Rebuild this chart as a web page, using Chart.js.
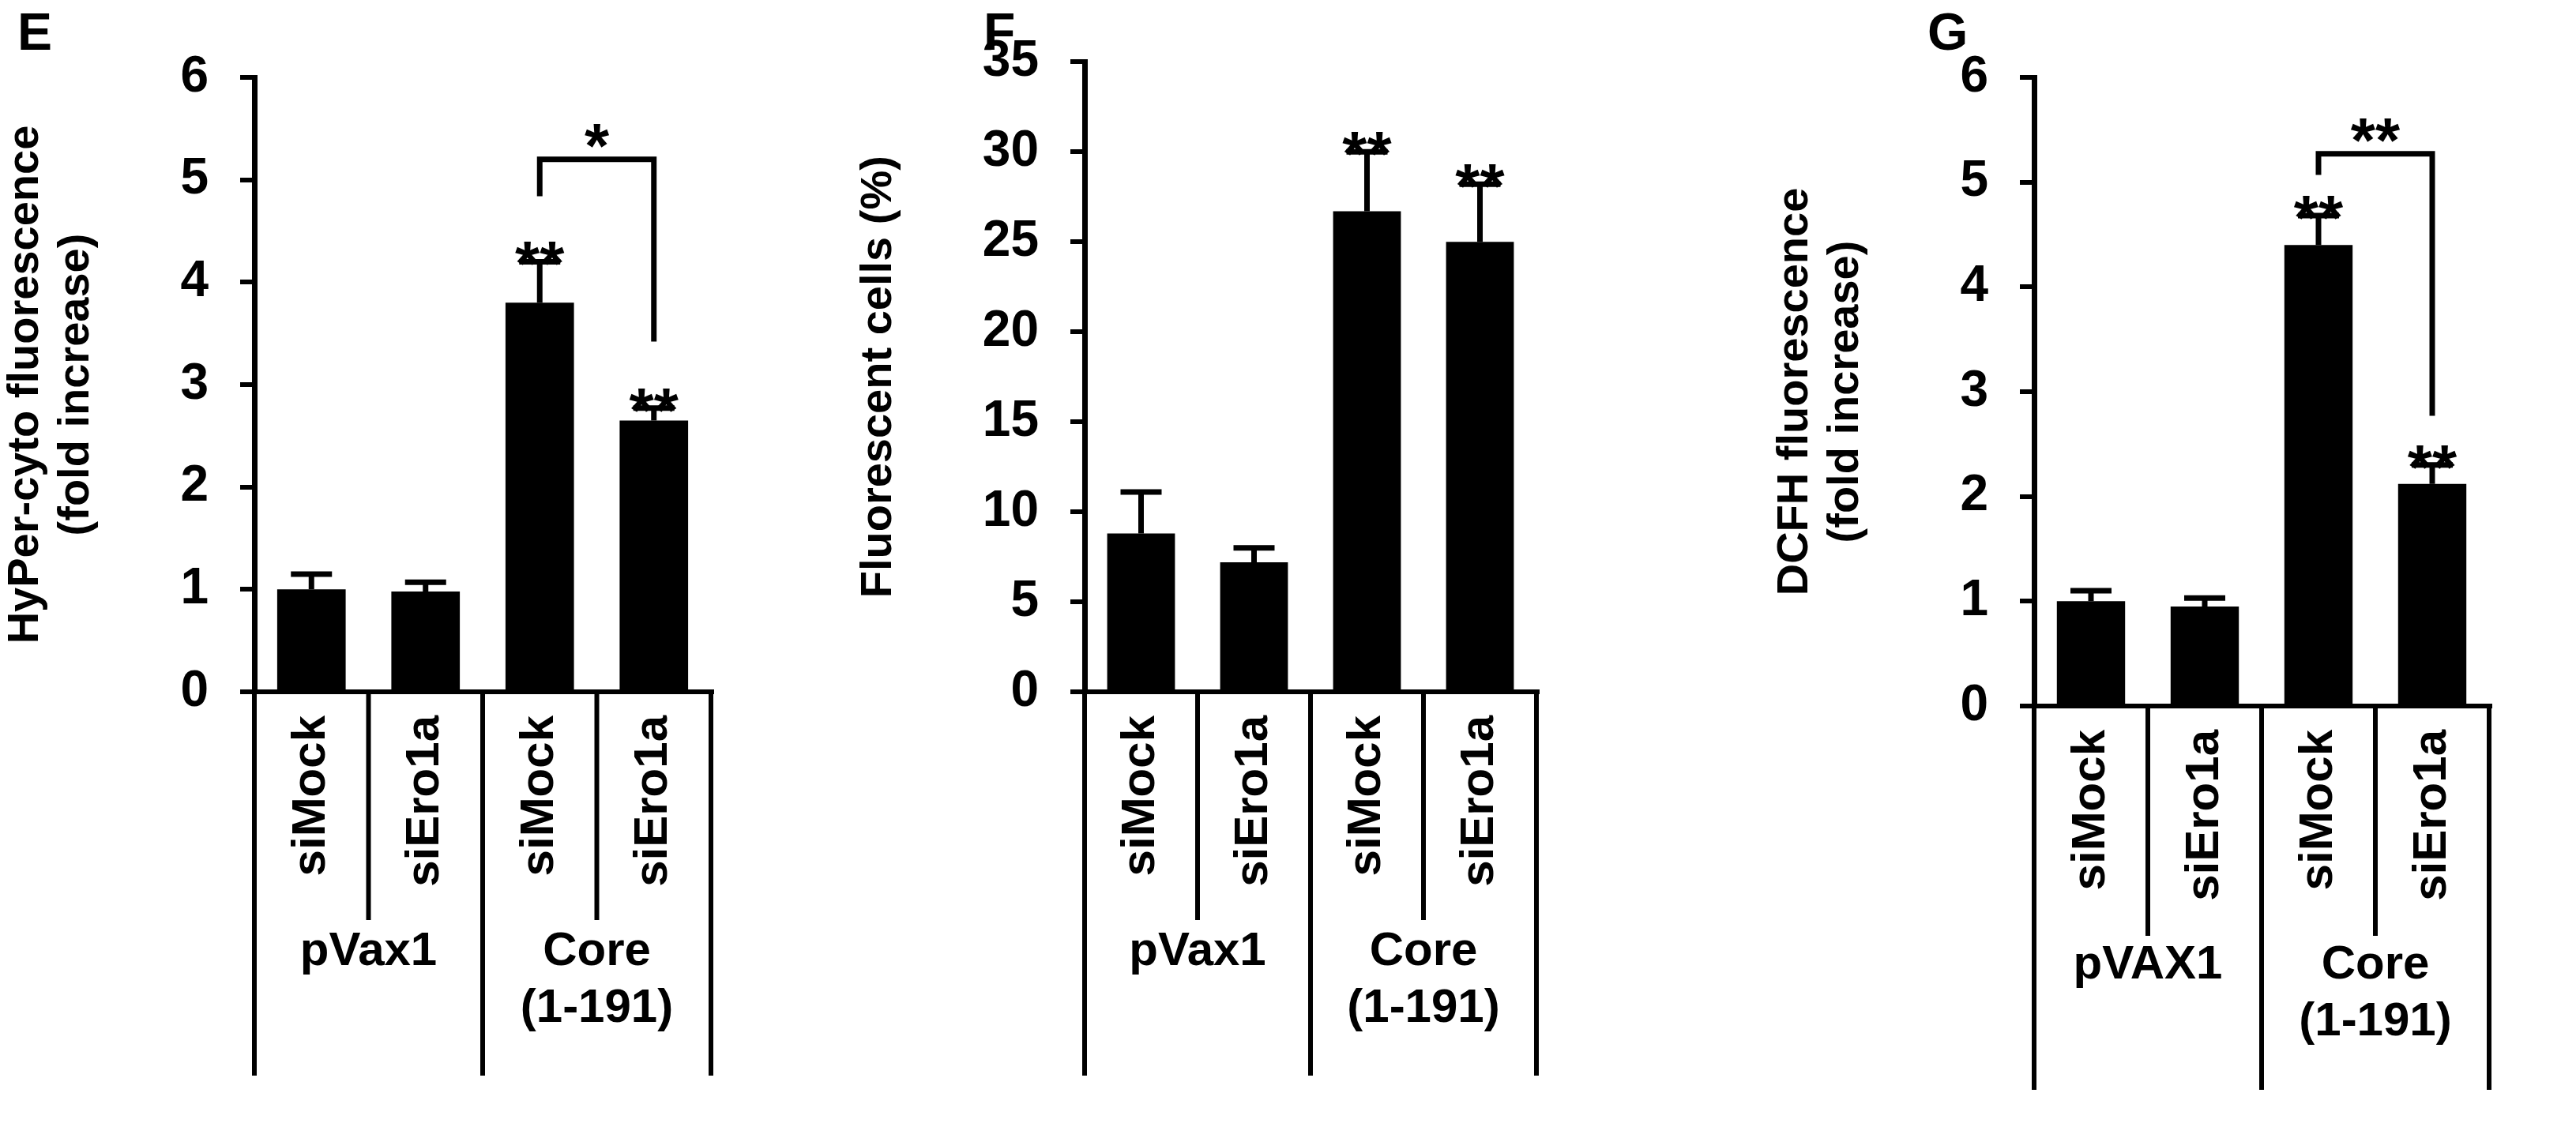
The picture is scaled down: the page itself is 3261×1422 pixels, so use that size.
<!DOCTYPE html>
<html>
<head>
<meta charset="utf-8">
<script src="https://cdn.jsdelivr.net/npm/chart.js@4.4.1/dist/chart.umd.min.js"></script>
<style>
  body { margin: 0; background: #fff; width: 3261px; height: 1422px; position: relative; overflow: hidden; }
  canvas { position: absolute; top: 0; }
  .lbl { position: absolute; font: bold 66px Arial, "Liberation Sans", sans-serif; }
</style>
</head>
<body>
<div class="lbl" style="left:22px;top:2px;">E</div>
<div class="lbl" style="left:1245px;top:2px;">F</div>
<div class="lbl" style="left:2440px;top:2px;">G</div>
<canvas id="chartE"></canvas>
<canvas id="chartF"></canvas>
<canvas id="chartG"></canvas>
<script>
// ==============================
// DATA
// ==============================
const categories = ['siMock', 'siEro1a', 'siMock', 'siEro1a'];
const groupsE = [['pVax1'], ['Core', '(1-191)']];
const groupsG = [['pVAX1'], ['Core', '(1-191)']];

const hyperValues = [1.0, 0.98, 3.8, 2.65];
const hyperErrors = [0.15, 0.09, 0.4, 0.12];
const hyperStars = ['', '', '**', '**'];

const cellValues = [8.8, 7.2, 26.7, 25.0];
const cellErrors = [2.3, 0.8, 3.3, 3.2];
const cellStars = ['', '', '**', '**'];

const dcfhValues = [1.0, 0.95, 4.4, 2.12];
const dcfhErrors = [0.1, 0.08, 0.28, 0.18];
const dcfhStars = ['', '', '**', '**'];

const FONT = 'Arial, "Liberation Sans", sans-serif';

// Annotations: errorbars, stars, bracket, category table
const annotate = {
    id: 'annotate',
    afterDatasetsDraw(chart, args, opts) {
        const ctx = chart.ctx;
        const y = chart.scales.y;
        const meta = chart.getDatasetMeta(0);
        const area = chart.chartArea;
        ctx.save();
        ctx.strokeStyle = '#000';
        ctx.fillStyle = '#000';
        ctx.lineWidth = 7;

        // error bars (upper only)
        meta.data.forEach((bar, i) => {
            const top = y.getPixelForValue(opts.values[i] + opts.errors[i]);
            ctx.beginPath();
            ctx.moveTo(bar.x, bar.y);
            ctx.lineTo(bar.x, top);
            ctx.moveTo(bar.x - 26, top);
            ctx.lineTo(bar.x + 26, top);
            ctx.stroke();
            if (opts.stars[i]) {
                ctx.font = 'bold 80px ' + FONT;
                ctx.textAlign = 'center';
                ctx.textBaseline = 'alphabetic';
                ctx.fillText(opts.stars[i], bar.x, top + 30);
            }
        });

        // comparison bracket
        if (opts.bracket) {
            const b = opts.bracket;
            const x1 = meta.data[2].x, x2 = meta.data[3].x;
            const yTop = y.getPixelForValue(b.top);
            ctx.beginPath();
            ctx.moveTo(x1, y.getPixelForValue(b.left));
            ctx.lineTo(x1, yTop);
            ctx.lineTo(x2, yTop);
            ctx.lineTo(x2, y.getPixelForValue(b.right));
            ctx.stroke();
            ctx.font = 'bold 80px ' + FONT;
            ctx.textAlign = 'center';
            ctx.fillText(b.text, (x1 + x2) / 2, yTop + 10);
        }

        // category table below axis
        const w = (area.right - area.left) / 4;
        ctx.lineWidth = 6;
        ctx.beginPath();
        ctx.moveTo(area.left - 18, area.bottom);
        ctx.lineTo(area.right + 4, area.bottom);
        for (let i = 0; i <= 4; i++) {
            const x = area.left + i * w;
            ctx.moveTo(x, area.bottom);
            ctx.lineTo(x, i % 2 === 0 ? opts.outerEnd : opts.innerEnd);
        }
        ctx.stroke();

        ctx.font = 'bold 60px ' + FONT;
        categories.forEach((c, i) => {
            ctx.save();
            ctx.translate(area.left + (i + 0.5) * w, area.bottom + 30);
            ctx.rotate(-Math.PI / 2);
            ctx.textAlign = 'right';
            ctx.textBaseline = 'middle';
            ctx.fillText(c, 0, 0);
            ctx.restore();
        });

        ctx.textAlign = 'center';
        ctx.textBaseline = 'middle';
        opts.groups.forEach((g, gi) => {
            const cx = area.left + (gi * 2 + 1) * w;
            g.forEach((line, li) => ctx.fillText(line, cx, opts.groupY + li * 72));
        });
        ctx.restore();
    }
};

function makeChart(id, left, width, cfg) {
    const canvas = document.getElementById(id);
    canvas.style.left = left + 'px';
    canvas.width = width;
    canvas.height = 1422;
    canvas.style.width = width + 'px';
    canvas.style.height = '1422px';

    return new Chart(canvas, {
        type: 'bar',
        data: {
            labels: categories,
            datasets: [{
                data: cfg.values,
                backgroundColor: '#000',
                borderWidth: 0,
                barPercentage: 0.6,
                categoryPercentage: 1
            }]
        },
        options: {
            responsive: false,
            animation: false,
            devicePixelRatio: 1,
            layout: { padding: { top: cfg.top, bottom: 1422 - cfg.bottom, right: width - cfg.right, left: 0 } },
            plugins: {
                legend: { display: false },
                tooltip: { enabled: false },
                annotate: cfg
            },
            scales: {
                x: { display: false },
                y: {
                    min: 0,
                    max: cfg.max,
                    ticks: {
                        stepSize: cfg.step,
                        color: '#000',
                        padding: 40,
                        font: { family: FONT, size: 64, weight: 'bold' }
                    },
                    grid: { drawOnChartArea: false, tickLength: 18, color: '#000', lineWidth: 6 },
                    border: { color: '#000', width: 7 },
                    title: {
                        display: true,
                        text: cfg.title,
                        color: '#000',
                        padding: 0,
                        font: { family: FONT, size: 56, weight: 'bold', lineHeight: 1.15 }
                    },
                    afterFit: s => { s.width = cfg.axisX; }
                }
            }
        },
        plugins: [annotate]
    });
}

makeChart('chartE', 0, 1050, {
    values: hyperValues, errors: hyperErrors, stars: hyperStars,
    max: 6, step: 1, title: ['HyPer-cyto fluorescence', '(fold increase)'],
    axisX: 322, top: 98, bottom: 876, right: 900,
    bracket: { left: 4.84, top: 5.2, right: 3.42, text: '*' },
    groups: groupsE, groupY: 1205, innerEnd: 1165, outerEnd: 1362
});

makeChart('chartF', 1080, 1100, {
    values: cellValues, errors: cellErrors, stars: cellStars,
    max: 35, step: 5, title: 'Fluorescent cells (%)',
    axisX: 293, top: 56, bottom: 876, right: 865,
    groups: groupsE, groupY: 1205, innerEnd: 1165, outerEnd: 1362
});

makeChart('chartG', 2240, 1021, {
    values: dcfhValues, errors: dcfhErrors, stars: dcfhStars,
    max: 6, step: 1, title: ['DCFH fluorescence', '(fold increase)'],
    axisX: 335, top: 98, bottom: 894, right: 911,
    bracket: { left: 5.07, top: 5.27, right: 2.77, text: '**' },
    groups: groupsG, groupY: 1222, innerEnd: 1185, outerEnd: 1380
});
</script>
</body>
</html>
